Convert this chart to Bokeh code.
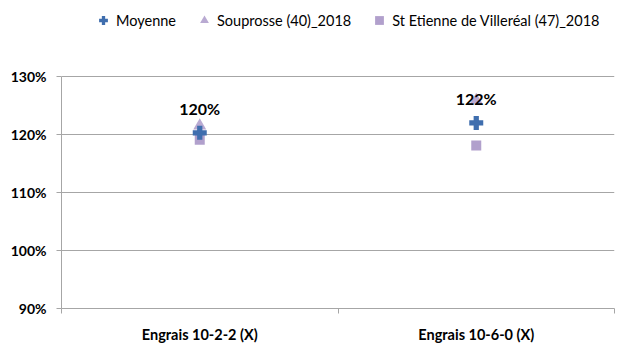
from bokeh.plotting import figure
from bokeh.models import (ColumnDataSource, Legend, LegendItem, LabelSet,
                          FixedTicker, NumeralTickFormatter)
from bokeh.core.properties import value
from bokeh.embed import file_html
from bokeh.resources import INLINE

categories = ["Engrais 10-2-2 (X)", "Engrais 10-6-0 (X)"]
moyenne = [1.203, 1.220]
souprosse = [1.215, 1.259]
st_etienne = [1.191, 1.181]
moyenne_labels = ["120%", "122%"]
series_names = ["Moyenne", "Souprosse (40)_2018", "St Etienne de Villeréal (47)_2018"]
y_ticks = [0.9, 1.0, 1.1, 1.2, 1.3]

FONT = "Lato"
xpos = [i + 0.5 for i in range(len(categories))]

# frame extends above the top tick to host the legend (layout only)
frame_top_px, frame_bottom_px, top_tick_px = 5, 308, 76
y_lo, y_hi_tick = y_ticks[0], y_ticks[-1]
y_top = y_lo + (y_hi_tick - y_lo) * (frame_bottom_px - frame_top_px) / (frame_bottom_px - top_tick_px)

src = ColumnDataSource(dict(x=xpos, moy=moyenne, sou=souprosse, ste=st_etienne,
                            lab=moyenne_labels))

p = figure(width=623, height=355, output_backend="svg", toolbar_location=None,
           x_range=(0, len(categories)), y_range=(y_lo, y_top),
           min_border_left=61, min_border_right=9, min_border_top=frame_top_px,
           min_border_bottom=355 - frame_bottom_px)
p.outline_line_color = None
p.background_fill_color = "white"
p.border_fill_color = "white"

r_tri = p.scatter("x", "sou", source=src, marker="triangle", size=13,
                  fill_color="#B9AAD2", line_color=None)
r_sq = p.scatter("x", "ste", source=src, marker="square", size=10,
                 fill_color="#B1A0CC", line_color=None)
r_plus = p.scatter("x", "moy", source=src, marker="plus", size=14,
                   fill_color="#3F6EAE", line_color=None)

labels = LabelSet(x="x", y="moy", text="lab", source=src, y_offset=24,
                  text_align="center", text_baseline="middle",
                  text_font=value(FONT), text_font_style="bold", text_font_size="16px",
                  text_color="black")
p.add_layout(labels)

# y axis
p.yaxis.ticker = FixedTicker(ticks=y_ticks)
p.yaxis.bounds = (y_lo, y_hi_tick)
p.yaxis.formatter = NumeralTickFormatter(format="0%")
p.yaxis.axis_line_color = "#A6A6A6"
p.yaxis.major_tick_line_color = "#A6A6A6"
p.yaxis.major_tick_out = 5
p.yaxis.major_tick_in = 0
p.yaxis.minor_tick_line_color = None
p.yaxis.major_label_text_font = FONT
p.yaxis.major_label_text_font_style = "bold"
p.yaxis.major_label_text_font_size = "14px"
p.yaxis.major_label_text_color = "black"
p.yaxis.major_label_standoff = 10

# x axis
p.xaxis.ticker = FixedTicker(ticks=xpos, minor_ticks=list(range(len(categories) + 1)))
p.xaxis.major_label_overrides = {x: c for x, c in zip(xpos, categories)}
p.xaxis.axis_line_color = "#A6A6A6"
p.xaxis.major_tick_line_color = None
p.xaxis.major_tick_out = 0
p.xaxis.major_tick_in = 0
p.xaxis.minor_tick_line_color = "#A6A6A6"
p.xaxis.minor_tick_out = 5
p.xaxis.minor_tick_in = 0
p.xaxis.major_label_text_font = FONT
p.xaxis.major_label_text_font_style = "bold"
p.xaxis.major_label_text_font_size = "14.5px"
p.xaxis.major_label_text_color = "black"
p.xaxis.major_label_standoff = 12

p.xgrid.grid_line_color = None
p.ygrid.ticker = FixedTicker(ticks=y_ticks)
p.ygrid.grid_line_color = "#A6A6A6"

legend = Legend(items=[LegendItem(label=series_names[0], renderers=[r_plus]),
                       LegendItem(label=series_names[1], renderers=[r_tri]),
                       LegendItem(label=series_names[2], renderers=[r_sq])],
                orientation="horizontal", location=(31, 277),
                label_text_font=FONT, label_text_font_size="14.5px",
                label_text_color="black", glyph_width=22, glyph_height=22,
                label_standoff=2, spacing=17, padding=0, margin=0,
                border_line_color=None, background_fill_alpha=0)
p.add_layout(legend, "center")

open("out.html", "w").write(file_html(p, INLINE))
